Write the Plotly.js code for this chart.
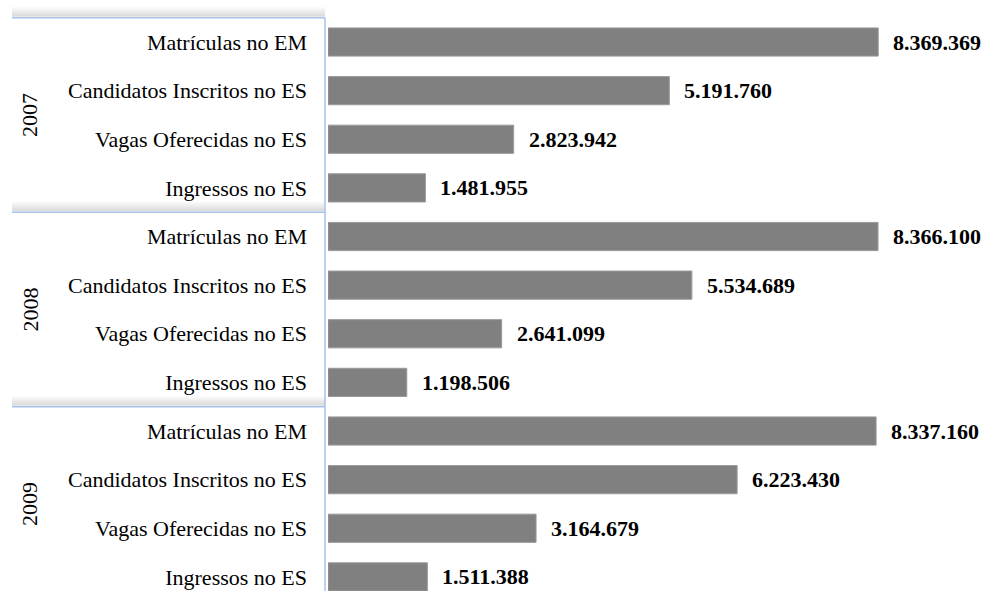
<!DOCTYPE html>
<html>
<head>
<meta charset="utf-8">
<script src="https://cdn.plot.ly/plotly-3.0.1.min.js"></script>
<style>html,body{margin:0;padding:0;background:#fff;}#chart{width:992px;height:591px;}</style>
</head>
<body>
<div id="chart"></div>
<script>
const years = ["2007", "2008", "2009"];
const categories = ["Matrículas no EM", "Candidatos Inscritos no ES", "Vagas Oferecidas no ES", "Ingressos no ES"];
const values2007 = [8369369, 5191760, 2823942, 1481955];
const values2008 = [8366100, 5534689, 2641099, 1198506];
const values2009 = [8337160, 6223430, 3164679, 1511388];

const allValues = values2007.concat(values2008, values2009);
const labels = [];
years.forEach(() => categories.forEach(c => labels.push(c)));
const pos = allValues.map((v, i) => i);

function fmt(n) { return String(n).replace(/\B(?=(\d{3})+(?!\d))/g, "."); }

const FONT = "Liberation Serif";
const LINE = "#a7c2ea";
const plotLeft = 328, plotW = 992 - plotLeft;
const px = p => p / plotW; // paper units for pixel offsets

const shapes = [];
// soft shadow bands above separators
[-0.5, 3.5, 7.5].forEach(y => {
  for (let k = 1; k <= 8; k++) {
    shapes.push({type: "rect", xref: "paper", yref: "y", x0: px(12 - plotLeft), x1: px(325 - plotLeft),
      y0: y - k * 0.028, y1: y - 0.02, fillcolor: "rgba(0,0,0,0.018)", line: {width: 0}, layer: "below"});
  }
  shapes.push({type: "line", xref: "paper", yref: "y", x0: px(12 - plotLeft), x1: px(325 - plotLeft),
    y0: y, y1: y, line: {color: LINE, width: 1.5}});
});
// vertical axis line
shapes.push({type: "line", xref: "paper", yref: "y", x0: px(-3), x1: px(-3), y0: -0.5, y1: 11.6,
  line: {color: LINE, width: 1.5}});

const annotations = [];
allValues.forEach((v, i) => {
  annotations.push({x: v, y: pos[i], xref: "x", yref: "y", text: "<b>" + fmt(v) + "</b>", showarrow: false,
    xanchor: "left", xshift: 13, font: {family: FONT, size: 22, color: "#000"}});
});
years.forEach((yr, g) => {
  annotations.push({x: px(30 - plotLeft), y: g * 4 + 1.5, xref: "paper", yref: "y", text: yr, showarrow: false,
    textangle: -90, xanchor: "center", yanchor: "middle", font: {family: FONT, size: 22, color: "#000"}});
});

const trace = {
  type: "bar", orientation: "h", x: allValues, y: pos, width: 0.58,
  marker: {color: "#808080", line: {color: "#9a9a9a", width: 1}},
  hoverinfo: "skip"
};

const layout = {
  width: 992, height: 591,
  margin: {l: plotLeft, r: 0, t: 0, b: 0, pad: 0},
  paper_bgcolor: "#fff", plot_bgcolor: "#fff",
  font: {family: FONT, size: 22, color: "#000"},
  showlegend: false,
  xaxis: {range: [0, 10.1e6], visible: false, showgrid: false, zeroline: false},
  yaxis: {range: [11.29, -0.864], tickmode: "array", tickvals: pos, ticktext: labels,
    showgrid: false, zeroline: false, showline: false, ticks: "", ticklabelstandoff: 20,
    tickfont: {family: FONT, size: 22, color: "#000"}},
  shapes: shapes,
  annotations: annotations
};

Plotly.newPlot("chart", [trace], layout, {staticPlot: true, displayModeBar: false});
</script>
</body>
</html>
